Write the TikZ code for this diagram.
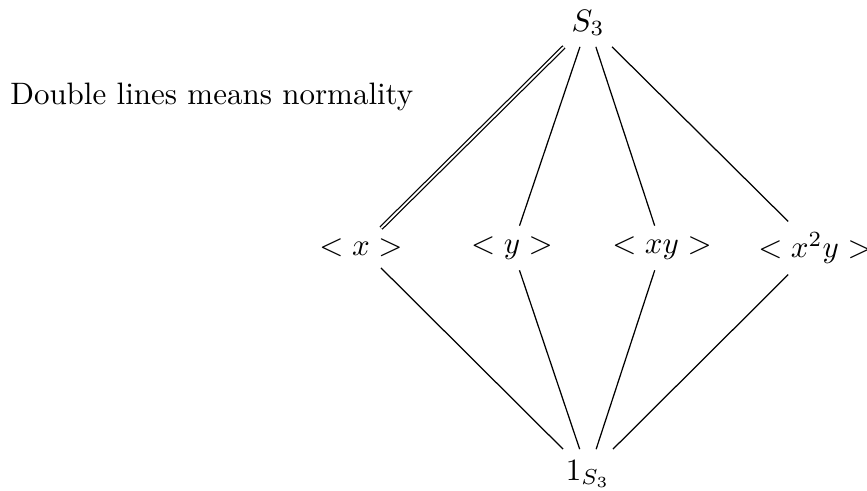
\documentclass[tikz,border=0pt]{standalone}
\usepackage{tikz}
\usepackage{amsmath,amssymb}
\usetikzlibrary{positioning}

\begin{document}
\begin{tikzpicture}[normal/.style={double}, plain/.style={draw}]
  \useasboundingbox (0,0) rectangle (9.83,-5.567);
  \node[anchor=west,inner sep=0pt] (note) at (0.11,-1.10) {Double lines means normality};

  \node (S3) at (6.667,-0.261) {$S_3$};
  \node (cx) at (4.093,-2.812) {$<x>$};
  \node (cy) at (5.805,-2.812) {$<y>$};
  \node (cxy) at (7.506,-2.812) {$<xy>$};
  \node (cxxy) at (9.240,-2.812) {$<x^2y>$};
  \node (one) at (6.667,-5.374) {$1_{S_3}$};

  % top half: normal subgroup gets the double line
  \draw[normal] (S3) -- (cx);
  \draw (S3) -- (cy);
  \draw (S3) -- (cxy);
  \draw (S3) -- (cxxy);

  % bottom half
  \draw (cx) -- (one);
  \draw (cy) -- (one);
  \draw (cxy) -- (one);
  \draw (cxxy) -- (one);
\end{tikzpicture}
\end{document}
